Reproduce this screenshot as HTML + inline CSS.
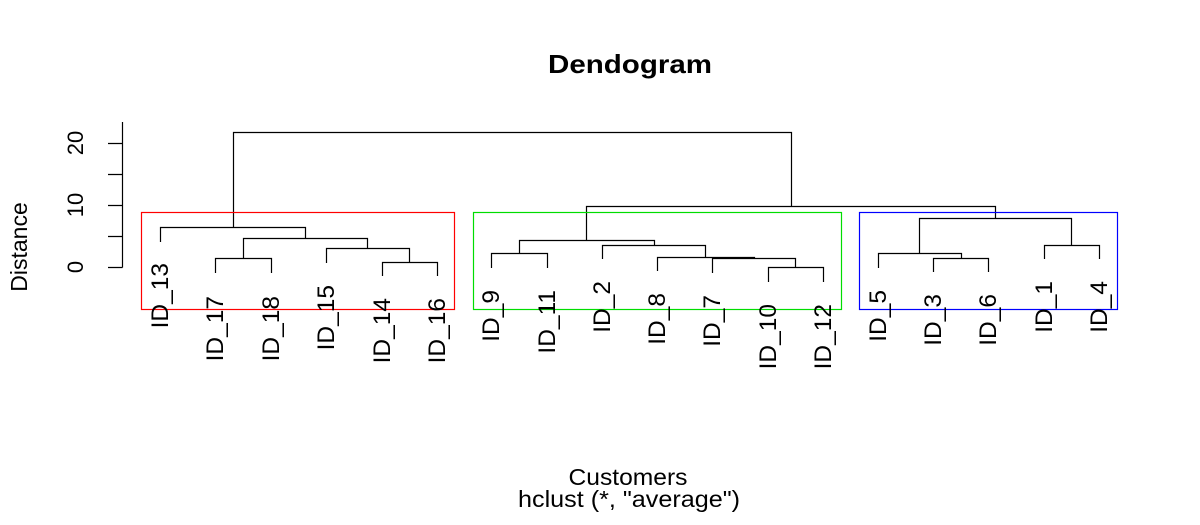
<!DOCTYPE html>
<html><head><meta charset="utf-8"><style>
html,body{margin:0;padding:0;background:#fff;}
svg{display:block;font-family:"Liberation Sans",Arial,sans-serif;}
</style></head><body>
<svg width="1200" height="525" viewBox="0 0 1200 525" xmlns="http://www.w3.org/2000/svg">
<rect width="1200" height="525" fill="#fff"/>
<text x="630" y="73" font-size="26" font-weight="bold" text-anchor="middle" textLength="164" lengthAdjust="spacingAndGlyphs">Dendogram</text>
<text x="628" y="485" font-size="23" text-anchor="middle" textLength="119" lengthAdjust="spacingAndGlyphs">Customers</text>
<text x="629" y="507" font-size="23" text-anchor="middle" textLength="222" lengthAdjust="spacingAndGlyphs">hclust (*, "average")</text>
<text transform="translate(27,247) rotate(-90)" font-size="23" text-anchor="middle">Distance</text>
<g stroke="#000" stroke-width="1.2" fill="none">
<path d="M122.5 122V267.5M108 143.5H122.5M108 174.5H122.5M108 205.5H122.5M108 236.5H122.5M108 267.5H122.5"/>
</g>
<g font-size="22" text-anchor="middle">
<text transform="translate(83,267) rotate(-90)">0</text>
<text transform="translate(83,205) rotate(-90)">10</text>
<text transform="translate(83,143) rotate(-90)">20</text>
</g>
<g stroke="#000" stroke-width="1.2" fill="none">
<path d="M233.5 227V132.5H791.5V206.5"/>
<path d="M160.5 242V227.5H305.5V238.5"/>
<path d="M243.5 258V238.5H367.5V248"/>
<path d="M215.5 273V258.5H271.5V273"/>
<path d="M326.5 263V248.5H409.5V262"/>
<path d="M382.5 276V262.5H437.5V276"/>
<path d="M586.5 240V206.5H995.5V218"/>
<path d="M519.5 253V240.5H654.5V245"/>
<path d="M491.5 268V253.5H547.5V268"/>
<path d="M602.5 259V245.5H705.5V257"/>
<path d="M657.5 271V257.5H754.5V258"/>
<path d="M712.5 273V258.5H795.5V267"/>
<path d="M768.5 282V267.5H823.5V282"/>
<path d="M919.5 253V218.5H1071.5V245"/>
<path d="M878.5 268V253.5H961.5V258"/>
<path d="M933.5 272V258.5H988.5V272"/>
<path d="M1044.5 259V245.5H1099.5V259"/>
</g>
<rect x="141.5" y="212.5" width="313" height="97" fill="none" stroke="#f00" stroke-width="1.2"/>
<rect x="473.5" y="212.5" width="368" height="97" fill="none" stroke="#0d0" stroke-width="1.2"/>
<rect x="859.5" y="212.5" width="258" height="97" fill="none" stroke="#00f" stroke-width="1.2"/>
<g font-size="24.5" text-anchor="end">
<text transform="translate(168,263) rotate(-90)">ID_13</text>
<text transform="translate(223,296) rotate(-90)">ID_17</text>
<text transform="translate(279,296) rotate(-90)">ID_18</text>
<text transform="translate(334,285) rotate(-90)">ID_15</text>
<text transform="translate(390,298) rotate(-90)">ID_14</text>
<text transform="translate(445,298) rotate(-90)">ID_16</text>
<text transform="translate(499,290) rotate(-90)">ID_9</text>
<text transform="translate(555,290) rotate(-90)">ID_11</text>
<text transform="translate(610,281) rotate(-90)">ID_2</text>
<text transform="translate(665,293) rotate(-90)">ID_8</text>
<text transform="translate(720,295) rotate(-90)">ID_7</text>
<text transform="translate(776,304) rotate(-90)">ID_10</text>
<text transform="translate(831,304) rotate(-90)">ID_12</text>
<text transform="translate(886,290) rotate(-90)">ID_5</text>
<text transform="translate(941,294) rotate(-90)">ID_3</text>
<text transform="translate(996,294) rotate(-90)">ID_6</text>
<text transform="translate(1052,281) rotate(-90)">ID_1</text>
<text transform="translate(1107,281) rotate(-90)">ID_4</text>
</g>
</svg>
</body></html>
